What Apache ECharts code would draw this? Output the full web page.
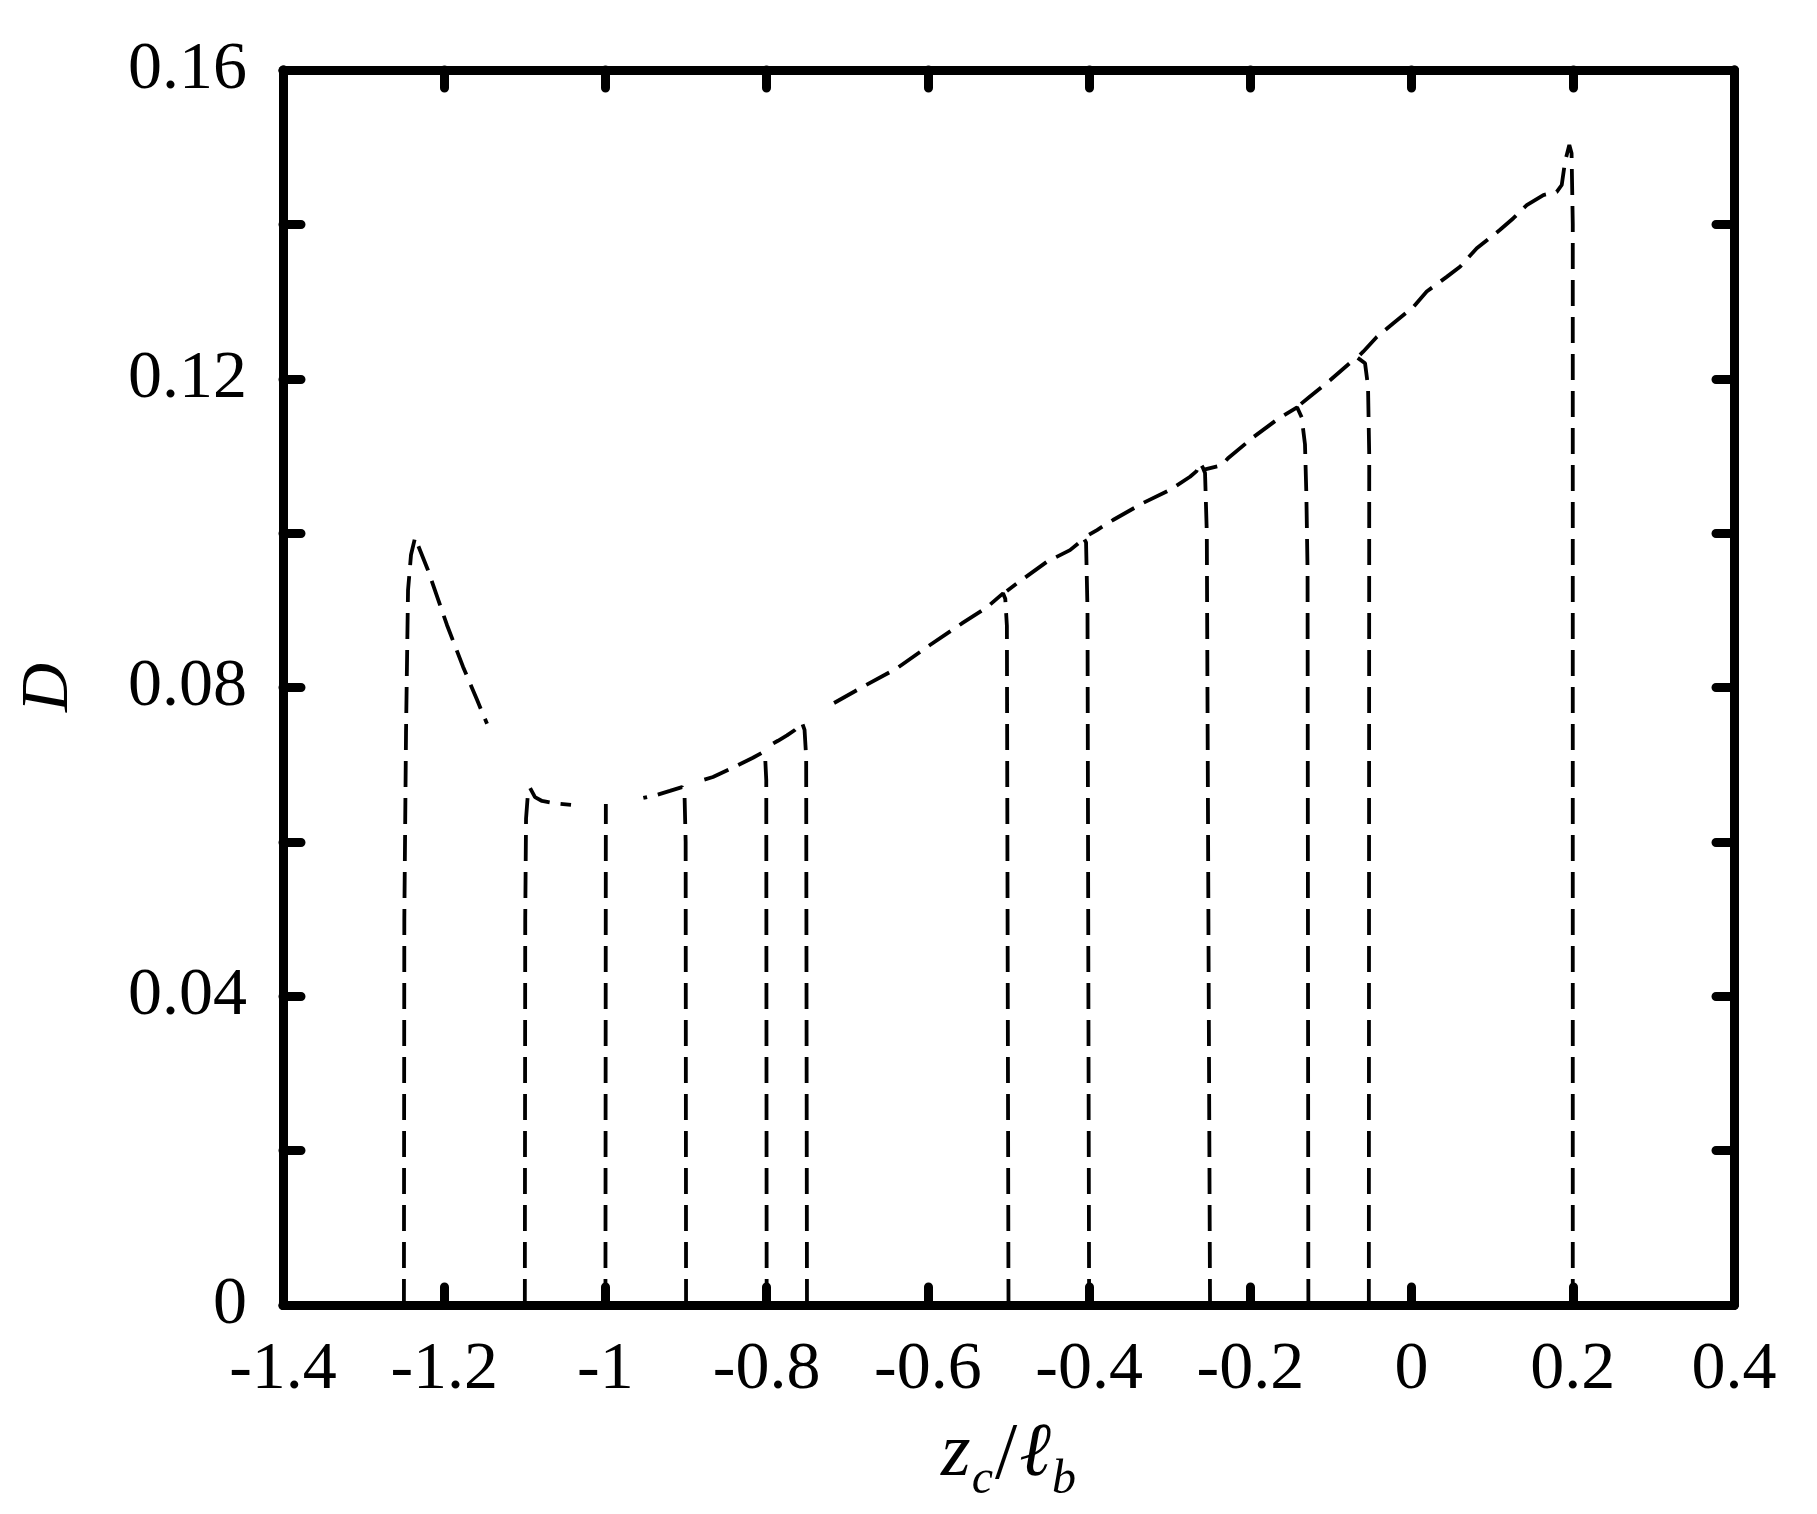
<!DOCTYPE html>
<html>
<head>
<meta charset="utf-8">
<script src="https://cdn.jsdelivr.net/npm/echarts@6.0.0/dist/echarts.min.js"></script>
<style>
html,body{margin:0;padding:0;background:#fff;}
#chart{width:1817px;height:1514px;}
</style>
</head>
<body>
<div id="chart"></div>
<script>
// Axis settings
const xMin = -1.4, xMax = 0.4, xStep = 0.2;
const yMin = 0, yMax = 0.16, yStep = 0.02;
const yLabelValues = [0, 0.04, 0.08, 0.12, 0.16];

// Branch data: [z_c / l_b, D]
const branchM125 = [[-1.25,0],[-1.2495,0.05],[-1.2474,0.0741],[-1.2449,0.0926],[-1.2412,0.0972],[-1.2362,0.0994],[-1.2201,0.0952],[-1.1966,0.0881],[-1.1767,0.0827],[-1.1593,0.0784],[-1.1469,0.0753]];
const branchM110 = [[-1.1,0],[-1.0995,0.05],[-1.0985,0.063],[-1.096,0.0665],[-1.0936,0.0670],[-1.0874,0.0658],[-1.0787,0.0653],[-1.0626,0.0650],[-1.0427,0.0648]];
const branchM100 = [[-1.0,0],[-0.9995,0.0649]];
const branchM090 = [[-0.9,0],[-0.9005,0.06],[-0.902,0.0666],[-0.905,0.0671],[-0.92,0.0666],[-0.936,0.0661],[-0.953,0.0657]];
const branchM080 = [[-0.8,0],[-0.8005,0.068],[-0.802,0.0712],[-0.805,0.0716],[-0.817,0.0709],[-0.842,0.0696],[-0.8666,0.0684],[-0.886,0.0678]];
const branchM075 = [[-0.75,0],[-0.751,0.071],[-0.753,0.0745],[-0.756,0.0754],[-0.765,0.0745],[-0.7748,0.0738],[-0.786,0.0731],[-0.796,0.0725]];
const branchM050 = [[-0.5,0],[-0.502,0.088],[-0.504,0.0915],[-0.5068,0.0922],[-0.5267,0.0904],[-0.5564,0.0884],[-0.5974,0.0855],[-0.6383,0.0825],[-0.6805,0.0801],[-0.7214,0.0777]];
const branchM040 = [[-0.4,0],[-0.402,0.09],[-0.4038,0.0988],[-0.4076,0.0995],[-0.412,0.0988],[-0.4237,0.0978],[-0.4522,0.0963],[-0.4894,0.0935],[-0.502,0.0925]];
const branchM025 = [[-0.25,0],[-0.254,0.1],[-0.2562,0.1078],[-0.259,0.1085],[-0.2624,0.1091],[-0.267,0.1080],[-0.2748,0.1073],[-0.2996,0.1056],[-0.3331,0.1039],[-0.3703,0.1017],[-0.3902,0.1004],[-0.4,0.0998]];
const branchM013 = [[-0.128,0],[-0.129,0.095],[-0.1305,0.105],[-0.1322,0.1115],[-0.1363,0.1150],[-0.142,0.1163],[-0.1669,0.1147],[-0.1967,0.1124],[-0.2277,0.1097],[-0.2351,0.1088],[-0.2587,0.1082]];
const branchM005 = [[-0.053,0],[-0.0525,0.11],[-0.054,0.119],[-0.0577,0.1220],[-0.068,0.1228],[-0.0725,0.1224],[-0.1011,0.1198],[-0.126,0.1177],[-0.140,0.1165]];
const branchP020 = [[0.2,0],[0.2,0.14],[0.1985,0.1492],[0.1957,0.1503],[0.1904,0.1481],[0.1863,0.1451],[0.1801,0.1442],[0.1635,0.1438],[0.1429,0.1425],[0.1263,0.1408],[0.1098,0.1393],[0.0809,0.1369],[0.0601,0.1345],[0.0436,0.1332],[0.0188,0.1313],[0.0022,0.1293],[-0.0226,0.1272],[-0.0432,0.1254],[-0.0600,0.1235],[-0.064,0.1231]];

const branches = [branchM125, branchM110, branchM100, branchM090, branchM080, branchM075,
                  branchM050, branchM040, branchM025, branchM013, branchM005, branchP020];

const FONT = '"Liberation Serif", "DejaVu Serif", serif';
const AXIS_W = 9;

function boxAxis(extra) {
  return Object.assign({
    axisLine: {show: true, onZero: false, lineStyle: {color: '#000', width: AXIS_W, cap: 'round'}},
    axisTick: {show: true, inside: true, length: 18, lineStyle: {color: '#000', width: AXIS_W, cap: 'round'}},
    splitLine: {show: false},
    axisLabel: {show: false}
  }, extra);
}

const chart = echarts.init(document.getElementById('chart'), null, {renderer: 'canvas'});
chart.setOption({
  animation: false,
  backgroundColor: '#fff',
  grid: {left: 283, right: 83, top: 70, bottom: 209, containLabel: false},
  xAxis: [
    boxAxis({
      type: 'value', position: 'bottom', min: xMin, max: xMax, interval: xStep,
      axisLabel: {show: true, margin: 31, color: '#000', fontFamily: FONT, fontSize: 68},
      name: '{i|z}{s|c}{n|/}{i|ℓ}{s|b}',
      nameLocation: 'middle', nameGap: 112,
      nameTextStyle: {
        color: '#000', fontFamily: FONT,
        rich: {
          i: {fontFamily: FONT, fontStyle: 'italic', fontSize: 76, lineHeight: 76, verticalAlign: 'top', color: '#000'},
          n: {fontFamily: FONT, fontSize: 80, lineHeight: 76, verticalAlign: 'top', color: '#000', padding: [0, 2, 0, 2]},
          s: {fontFamily: FONT, fontStyle: 'italic', fontSize: 48, lineHeight: 48, padding: [39, 0, 0, 1], verticalAlign: 'top', color: '#000'}
        }
      }
    }),
    boxAxis({type: 'value', position: 'top', min: xMin, max: xMax, interval: xStep})
  ],
  yAxis: [
    boxAxis({
      type: 'value', position: 'left', min: yMin, max: yMax, interval: yStep,
      axisLabel: {
        show: true, margin: 36, color: '#000', fontFamily: FONT, fontSize: 68,
        formatter: function (v) {
          const hit = yLabelValues.find(t => Math.abs(t - v) < 1e-9);
          return hit === undefined ? '' : String(hit);
        }
      },
      name: 'D', nameLocation: 'middle', nameGap: 200,
      nameTextStyle: {color: '#000', fontFamily: FONT, fontStyle: 'italic', fontSize: 68}
    }),
    boxAxis({type: 'value', position: 'right', min: yMin, max: yMax, interval: yStep})
  ],
  series: branches.map(function (b) {
    return {
      type: 'line', data: b, xAxisIndex: 0, yAxisIndex: 0,
      showSymbol: false, symbol: 'none', smooth: false, silent: true,
      lineStyle: {color: '#000', width: 3.8, type: [26, 11]}
    };
  })
});
</script>
</body>
</html>
